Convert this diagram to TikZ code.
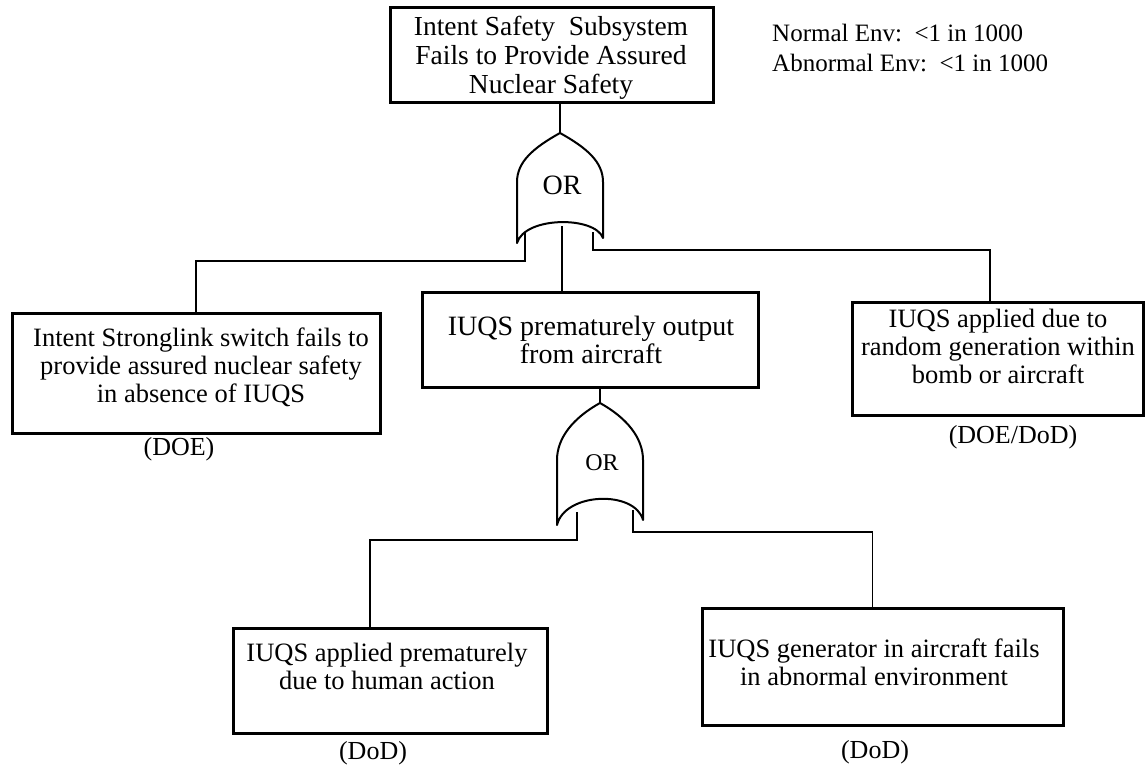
\documentclass[tikz,border=0pt]{standalone}
\usepackage{fontspec}
\setmainfont{Liberation Serif}
\begin{document}
\begin{tikzpicture}[x=1pt,y=-1pt,
  box/.style={draw, line width=3pt, inner sep=0pt},
  txt/.style={align=center, inner sep=0pt, font=\fontsize{26.5}{28}\selectfont},
  lab/.style={inner sep=0pt, font=\fontsize{26}{28}\selectfont},
  envtxt/.style={anchor=west, inner sep=0pt, font=\fontsize{25}{28}\selectfont},
  wire/.style={line width=1.8pt},
  gate/.style={line width=2pt, fill=white, line join=round}]
\useasboundingbox (0,0) rectangle (1147,765);

% boxes
\node[box, minimum width=323pt, minimum height=95pt] (tbox) at (551.5,55.5) {};
\node[txt, font=\fontsize{27.5}{29}\selectfont] (ttxt) at (551,58) {Intent Safety\ \ Subsystem\\Fails\ to Provide Assured\\Nuclear Safety};

\node[box, minimum width=368pt, minimum height=120pt] (lbox) at (196,373) {};
\node[txt] (ltxt) at (201,367) {Intent Stronglink switch fails to\\provide assured nuclear safety\\in absence of IUQS};
\node[lab] (llab) at (179,449) {(DOE)};

\node[box, minimum width=336pt, minimum height=95pt] (mbox) at (590,339.5) {};
\node[txt, font=\fontsize{28}{28}\selectfont] (mtxt) at (591,340) {IUQS prematurely output\\from aircraft};

\node[box, minimum width=291pt, minimum height=113pt] (rbox) at (997.5,358.5) {};
\node[txt] (rtxt) at (998,346) {IUQS applied due to\\random generation within\\bomb or aircraft};
\node[lab] (rlab) at (1013,437) {(DOE/DoD)};

\node[box, minimum width=314pt, minimum height=105pt] (llbox) at (390,680.5) {};
\node[txt] (lltxt) at (387,666) {IUQS applied prematurely\\due to human action};
\node[lab] (lllab) at (373,753) {(DoD)};

\node[box, minimum width=361pt, minimum height=117pt] (lrbox) at (882.5,666.5) {};
\node[txt] (lrtxt) at (874,662) {IUQS generator in aircraft fails\\in abnormal environment};
\node[lab] (lrlab) at (875,752) {(DoD)};

% probability text
\node[envtxt] (env1) at (772,33) {Normal Env:\ \ {<}1 in 1000};
\node[envtxt] (env2) at (772,63) {Abnormal Env:\ \ {<}1 in 1000};

% gate coordinates
\coordinate (g1tip) at (560,133);
\coordinate (g1a) at (525,232);
\coordinate (g1b) at (562,226);
\coordinate (g1c) at (593,232);
\coordinate (g2tip) at (600,403);
\coordinate (g2a) at (577,512);
\coordinate (g2c) at (633,510);

% connectors
\draw[wire] (tbox.south -| g1tip) -- (g1tip);
\draw[wire] (g1a) -- (525,261) -| (lbox.north);
\draw[wire] (g1b) -- (g1b |- mbox.north);
\draw[wire] (g1c) -- (593,250) -| ([xshift=-7.5pt]rbox.north);
\draw[wire] (mbox.south -| g2tip) -- (g2tip);
\draw[wire] (g2a) -- (577,540) -| ([xshift=-20pt]llbox.north);
\draw[wire] (g2c) -- (633,532) -| ([xshift=-10pt]lrbox.north);

% OR gates
\draw[gate] (g1tip) .. controls (533,148) and (517,162) .. (517,182) -- (517,243)
  .. controls (525,216) and (595,216) .. (603,238) -- (603,182)
  .. controls (603,162) and (587,148) .. (g1tip) -- cycle;
\node[inner sep=0pt, font=\fontsize{28}{28}\selectfont] (or1) at (562,185) {OR};

\draw[gate] (g2tip) .. controls (573,418) and (557,438) .. (557,460) -- (557,525)
  .. controls (565,492) and (635,490) .. (643,520) -- (643,460)
  .. controls (643,438) and (627,418) .. (g2tip) -- cycle;
\node[inner sep=0pt, font=\fontsize{24}{24}\selectfont] (or2) at (602,463) {OR};
\end{tikzpicture}
\end{document}
